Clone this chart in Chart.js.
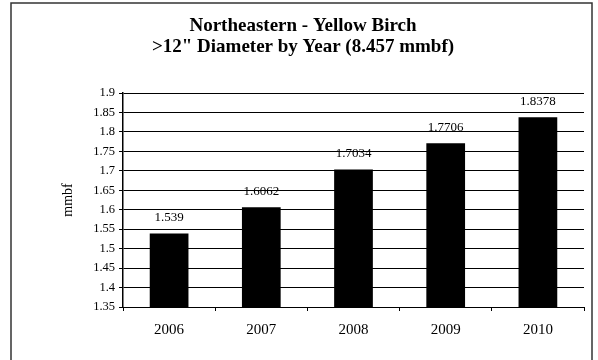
<!DOCTYPE html>
<html>
<head>
<meta charset="utf-8">
<script src="https://cdn.jsdelivr.net/npm/chart.js@4"></script>
<style>
  body { margin: 0; background: #fff; }
  #wrap { width: 598px; height: 360px; position: relative; }
</style>
</head>
<body>
<div id="wrap"><canvas id="barChart" width="598" height="360"></canvas></div>
<script>
const years = ['2006', '2007', '2008', '2009', '2010'];
const volumes = [1.539, 1.6062, 1.7034, 1.7706, 1.8378];
const titleLines = ['Northeastern - Yellow Birch', '>12" Diameter by Year (8.457 mmbf)'];

const serif = "'Liberation Serif', 'Times New Roman', serif";

// outer frame + two-line title, centred on the frame rather than the plot
const framePlugin = {
  id: 'frame',
  afterDraw(chart) {
    const ctx = chart.ctx;
    ctx.save();
    ctx.strokeStyle = '#333';
    ctx.lineWidth = 1.5;
    ctx.strokeRect(11, 3, 581, 360);
    ctx.font = 'bold 19px ' + serif;
    ctx.fillStyle = '#000';
    ctx.textAlign = 'center';
    ctx.textBaseline = 'alphabetic';
    titleLines.forEach((line, i) => ctx.fillText(line, 303, 31 + i * 21));
    ctx.restore();
  }
};

const valueLabels = {
  id: 'valueLabels',
  afterDatasetsDraw(chart) {
    const ctx = chart.ctx;
    const meta = chart.getDatasetMeta(0);
    ctx.save();
    ctx.font = '13px ' + serif;
    ctx.fillStyle = '#000';
    ctx.textAlign = 'center';
    ctx.textBaseline = 'middle';
    meta.data.forEach((bar, i) => {
      ctx.fillText(String(volumes[i]), bar.x, bar.y - 16);
    });
    ctx.restore();
  }
};

new Chart(document.getElementById('barChart'), {
  type: 'bar',
  data: {
    labels: years,
    datasets: [{
      data: volumes,
      backgroundColor: '#000',
      borderWidth: 0,
      barPercentage: 0.42,
      categoryPercentage: 1
    }]
  },
  options: {
    responsive: false,
    animation: false,
    layout: { padding: { left: 0, right: 14, top: 93, bottom: 0 } },
    plugins: {
      legend: { display: false },
      tooltip: { enabled: false },
      title: { display: false }
    },
    scales: {
      x: {
        grid: { drawOnChartArea: false, drawTicks: true, tickLength: 4, color: '#000' },
        border: { color: '#000', width: 1 },
        ticks: { color: '#000', font: { family: serif, size: 15 }, padding: 10, maxRotation: 0 },
        afterFit(scale) { scale.height = 53; }
      },
      y: {
        min: 1.35,
        max: 1.9,
        grid: { color: '#000', lineWidth: 1, tickLength: 4 },
        border: { color: '#000', width: 1.5 },
        ticks: {
          stepSize: 0.05,
          color: '#000',
          padding: 4,
          font: { family: serif, size: 12.5 },
          callback: v => String(Math.round(v * 100) / 100)
        },
        title: {
          display: true,
          text: 'mmbf',
          color: '#000',
          font: { family: serif, size: 14 },
          padding: { top: 60, bottom: 0 }
        },
        afterFit(scale) { scale.width = 123; }
      }
    }
  },
  plugins: [framePlugin, valueLabels]
});
</script>
</body>
</html>
